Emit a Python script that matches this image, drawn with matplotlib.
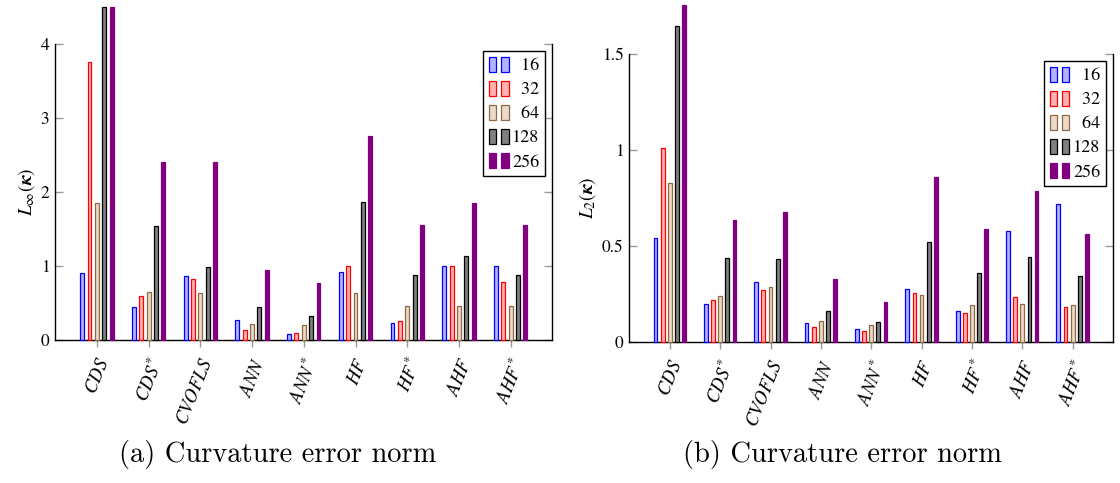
import matplotlib.pyplot as plt
from matplotlib.patches import Patch
from matplotlib.legend_handler import HandlerTuple
import numpy as np

plt.rcParams['font.family'] = ['STIXGeneral', 'DejaVu Sans']
plt.rcParams['mathtext.fontset'] = 'stix'

methods = [r'$CDS$', r'$CDS^{*}$', r'$CVOFLS$', r'$ANN$', r'$ANN^{*}$',
           r'$HF$', r'$HF^{*}$', r'$AHF$', r'$AHF^{*}$']
grids = ['16', '32', '64', '128', '256']

# (a) L_inf norm of curvature error
linf_16 = [0.90, 0.44, 0.87, 0.27, 0.08, 0.92, 0.23, 1.00, 1.00]
linf_32 = [3.76, 0.60, 0.82, 0.14, 0.10, 1.00, 0.26, 1.00, 0.79]
linf_64 = [1.85, 0.65, 0.63, 0.22, 0.20, 0.64, 0.46, 0.46, 0.46]
linf_128 = [4.50, 1.54, 0.98, 0.44, 0.32, 1.86, 0.88, 1.13, 0.88]
linf_256 = [4.50, 2.40, 2.41, 0.94, 0.77, 2.75, 1.55, 1.85, 1.55]

# (b) L_2 norm of curvature error
l2_16 = [0.54, 0.20, 0.31, 0.10, 0.07, 0.275, 0.16, 0.58, 0.72]
l2_32 = [1.01, 0.217, 0.27, 0.08, 0.059, 0.256, 0.151, 0.233, 0.183]
l2_64 = [0.83, 0.242, 0.289, 0.111, 0.089, 0.245, 0.193, 0.20, 0.193]
l2_128 = [1.647, 0.437, 0.43, 0.163, 0.106, 0.52, 0.36, 0.443, 0.346]
l2_256 = [1.755, 0.638, 0.678, 0.33, 0.207, 0.857, 0.586, 0.786, 0.565]

faces = ['#b3b3ff', '#ffb3b3', '#ecd9c6', '#808080', '#800080']
edges = ['#0000ff', '#ff0000', '#8c6a45', '#000000', '#800080']

fig = plt.figure(figsize=(11.2, 4.83), dpi=100)
ax1 = fig.add_axes([0.0491, 0.2961, 0.4438, 0.6128])
ax2 = fig.add_axes([0.5616, 0.2919, 0.4321, 0.5963])

panels = [
    (ax1, [linf_16, linf_32, linf_64, linf_128, linf_256], 4.0,
     [0, 1, 2, 3, 4], ['0', '1', '2', '3', '4'], r'$L_{\infty}(\boldsymbol{\kappa})$'),
    (ax2, [l2_16, l2_32, l2_64, l2_128, l2_256], 1.5,
     [0, 0.5, 1, 1.5], ['0', '0.5', '1', '1.5'], r'$L_{2}(\boldsymbol{\kappa})$'),
]

x = np.arange(len(methods))
for ax, series, ymax, yt, ytl, ylab in panels:
    for j in range(len(grids)):
        ax.bar(x + (j - 2) * 0.142, series[j], width=0.075,
               facecolor=faces[j], edgecolor=edges[j], linewidth=0.9,
               clip_on=False, zorder=3)
    ax.set_xlim(-0.81, 8.8)
    ax.set_ylim(0, ymax)
    ax.set_yticks(yt)
    ax.set_yticklabels(ytl, fontsize=12.5)
    ax.set_xticks(x)
    ax.set_xticklabels(methods, rotation=68, ha='right', rotation_mode='anchor',
                       fontsize=13.5)
    ax.spines['top'].set_visible(False)
    for s in ['left', 'bottom', 'right']:
        ax.spines[s].set_linewidth(1.0)
    ax.tick_params(axis='y', direction='in', right=True, length=6,
                   color='#999999', width=1, pad=4)
    ax.tick_params(axis='x', direction='out', length=5, color='#999999',
                   width=1, pad=6)
    ax.set_ylabel(ylab, fontsize=14, labelpad=3)

    handles = [(Patch(facecolor=faces[j], edgecolor=edges[j], linewidth=0.9),
                Patch(facecolor=faces[j], edgecolor=edges[j], linewidth=0.9))
               for j in range(len(grids))]
    labels = ['  16', '  32', '  64', '128', '256']
    leg = ax.legend(handles, labels, loc='upper right', fontsize=13,
                    handler_map={tuple: HandlerTuple(ndivide=None, pad=0.25)},
                    handlelength=1.1, handleheight=0.9, handletextpad=0.2,
                    labelspacing=0.35, borderpad=0.3, borderaxespad=0.4,
                    fancybox=False, framealpha=1, edgecolor='black')
    leg.get_frame().set_linewidth(1.0)

fig.text(0.248, 0.043, '(a) Curvature error norm', fontfamily='cmr10',
         fontsize=20.5, ha='center', va='baseline')
fig.text(0.752, 0.043, '(b) Curvature error norm', fontfamily='cmr10',
         fontsize=20.5, ha='center', va='baseline')

fig.savefig('out.png', dpi=100)
